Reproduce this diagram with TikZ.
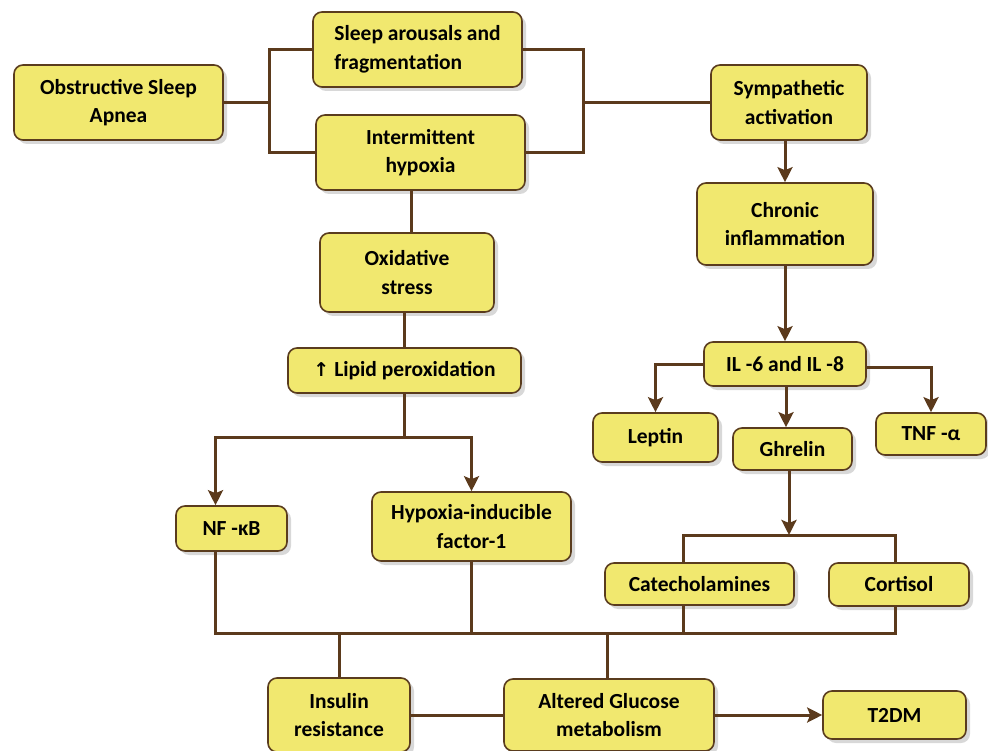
\documentclass[tikz,border=0pt]{standalone}
\usepackage{fontspec}
\setmainfont{Carlito}
\newfontfamily\arrowfont{DejaVu Sans}
\usetikzlibrary{arrows.meta,shadows}
\definecolor{boxfill}{HTML}{F1E86F}
\definecolor{boxline}{HTML}{5A3C1E}
\definecolor{linkbrown}{HTML}{5B3A1C}

\begin{document}
\begin{tikzpicture}[x=1pt,y=-1pt,
    box/.style={draw=boxline,line width=1.6pt,fill=boxfill,rounded corners=9pt,
      drop shadow={shadow xshift=4pt,shadow yshift=-4pt,fill=black!30},
      align=center,inner sep=0pt,font=\fontsize{21.5}{28.5}\selectfont\bfseries},
    link/.style={linkbrown,line width=3pt},
    arr/.style={link,-{Stealth[length=15pt,width=15pt,inset=3pt]}}]
            \useasboundingbox (0,0) rectangle (988,751);
            % top row
            \node[box,minimum width=209,minimum height=75] (osa) at (118.5,102.5) {Obstructive Sleep\\Apnea};
            \node[box,minimum width=209,minimum height=75,align=left] (sleep) at (417.5,49.5) {Sleep arousals and\\fragmentation};
            \node[box,minimum width=209,minimum height=75] (ih) at (420.5,152.5) {Intermittent\\hypoxia};
            \node[box,minimum width=156,minimum height=75] (symp) at (789,102.5) {Sympathetic\\activation};
            % left branch
            \node[box,minimum width=174,minimum height=79] (ox) at (407,272.5) {Oxidative\\stress};
            \node[box,minimum width=233,minimum height=45] (lipid) at (404.5,370.5) {{\arrowfont\bfseries\fontsize{19}{20}\selectfont ↑} Lipid peroxidation};
            \node[box,minimum width=111,minimum height=45] (nfkb) at (231.5,528.5) {NF -κB};
            \node[box,minimum width=199,minimum height=69] (hif) at (471.5,526.5) {Hypoxia-inducible\\factor-1};
            % right branch
            \node[box,minimum width=176,minimum height=82] (chronic) at (785,224) {Chronic\\inflammation};
            \node[box,minimum width=162,minimum height=44] (il) at (785,364) {IL -6 and IL -8};
            \node[box,minimum width=125,minimum height=49] (leptin) at (655.5,437.5) {Leptin};
            \node[box,minimum width=119,minimum height=42] (ghrelin) at (792.5,449) {Ghrelin};
            \node[box,minimum width=110,minimum height=42] (tnf) at (931,434) {TNF -α};
            \node[box,minimum width=189,minimum height=42] (cate) at (699.5,584) {Catecholamines};
            \node[box,minimum width=140,minimum height=43] (cort) at (899,584.5) {Cortisol};
            % bottom row
            \node[box,minimum width=142,minimum height=74] (ins) at (339,715) {Insulin\\resistance};
            \node[box,minimum width=210,minimum height=72] (glu) at (609,715) {Altered Glucose\\metabolism};
            \node[box,minimum width=143,minimum height=48] (t2dm) at (894.5,715) {T2DM};
            % junctions
            \coordinate (j1) at (269,102.5);
            \coordinate (j2) at (583,102.5);
            \coordinate (j3) at (404.5,437);
            \coordinate (j4) at (789,535);
            \coordinate (bus) at (0,633);
            % connectors
            \draw[link] (osa.east) -- (j1);
            \draw[link] (sleep.west) -| (j1) |- (ih.west);
            \draw[link] (sleep.east) -| (j2) |- (ih.east);
            \draw[link] (j2) -- (symp.west);
            \draw[arr] (chronic.north |- symp.south) -- (chronic.north);
            \draw[link] ([xshift=-9pt]ih.south) -- ([xshift=-9pt]ih.south |- ox.north);
            \draw[link] (ox.south -| lipid.north) -- (lipid.north);
            \draw[link] (lipid.south) -- (j3);
            \draw[arr] (j3) -| ([xshift=-16pt]nfkb.north);
            \draw[arr] (j3) -| (hif.north);
            \draw[arr] (chronic) -- (il);
            \draw[arr] (il.west) -| (leptin.north);
            \draw[arr] ([xshift=1pt]il.south) -- ([xshift=1pt]il.south |- ghrelin.north);
            \draw[arr] ([yshift=-3pt]il.east) -| (tnf.north);
            \draw[arr] (ghrelin.south -| j4) -- (j4);
            \draw[link] ([xshift=-16pt]cate.north) |- (j4) -| ([xshift=-4pt]cort.north);
            \draw[link] ([xshift=-16pt]nfkb.south) |- ([xshift=-4pt]cort.south |- bus) -- ([xshift=-4pt]cort.south);
            \draw[link] (hif.south) -- (hif.south |- bus);
            \draw[link] ([xshift=-16pt]cate.south) -- ([xshift=-16pt]cate.south |- bus);
            \draw[link] (ins.north |- bus) -- (ins.north);
            \draw[link] ([xshift=-2pt]glu.north |- bus) -- ([xshift=-2pt]glu.north);
            \draw[link] (ins) -- (glu);
            \draw[arr] (glu) -- (t2dm);
        \end{tikzpicture}
\end{document}
